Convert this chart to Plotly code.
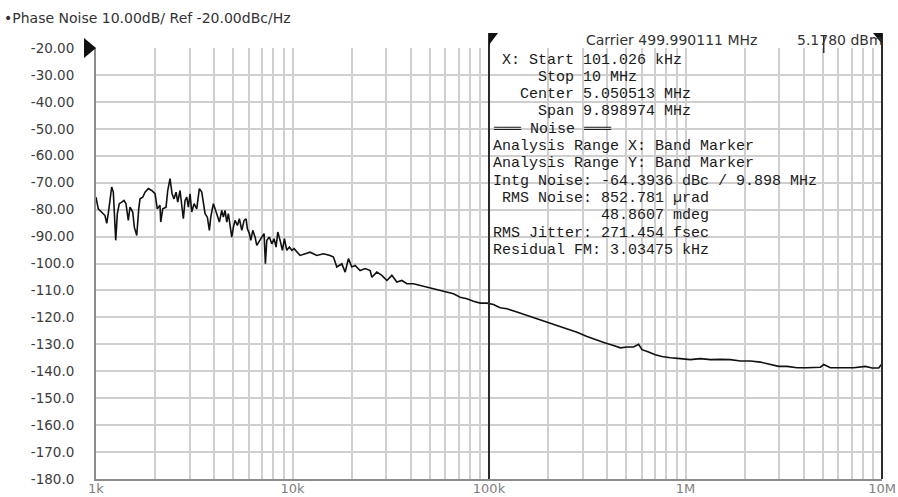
import math
import plotly.graph_objects as go

# Phase noise trace: offset frequency (Hz) and level (dBc/Hz)
freq_hz = [
    1000, 1027, 1111, 1134, 1155, 1178, 1202, 1225, 1260, 1284,
    1314, 1352, 1389, 1421, 1460, 1490, 1538, 1567, 1612, 1650,
    1675, 1729, 1776, 1846, 1921, 1997, 2051, 2117, 2135, 2186,
    2272, 2318, 2381, 2438, 2495, 2555, 2606, 2677, 2731, 2783,
    2839, 2896, 2951, 3010, 3071, 3155, 3256, 3357, 3453, 3518,
    3589, 3687, 3775, 3837, 3956, 4036, 4146, 4245, 4365, 4448,
    4537, 4629, 4716, 4811, 4908, 5003, 5103, 5242, 5366, 5520,
    5670, 5804, 5894, 6034, 6134, 6279, 6451, 6580, 6784, 6977,
    7167, 7278, 7399, 7627, 7845, 8060, 8251, 8417, 8648, 8884,
    9095, 9355, 9643, 9918, 10190, 10520, 10930, 12290, 13290, 14370,
    15540, 16160, 16810, 17820, 18530, 19260, 20040, 20830, 22090, 23430,
    24840, 25340, 26870, 28490, 30220, 32040, 33970, 36020, 38190, 41270,
    44640, 48290, 52170, 56420, 61030, 65950, 71340, 77170, 83410, 90210,
    97570, 105400, 114000, 123300, 138700, 156000, 175400, 197200, 221700, 249300,
    280300, 315200, 354300, 390600, 430500, 465600, 503600, 544200, 577200, 600700,
    648800, 701700, 759200, 836800, 941000, 1058000, 1190000, 1338000, 1504000, 1691000,
    1901000, 2138000, 2404000, 2703000, 2980000, 3287000, 3696000, 4155000, 4858000, 5050000,
    5462000, 6383000, 7180000, 8233000, 8906000, 9622000, 10000000,
]
noise_dbc = [
    -75.4, -79.7, -82.2, -85.1, -81.4, -76.6, -71.6, -73.5, -91.4, -81.5,
    -77.8, -77.2, -76.6, -77.8, -84.0, -79.1, -80.9, -86.5, -89.6, -79.7,
    -76.0, -75.4, -73.5, -72.2, -72.9, -74.1, -79.7, -78.4, -84.6, -79.7,
    -79.1, -72.9, -68.5, -74.1, -76.0, -73.5, -77.2, -72.9, -79.1, -83.4,
    -76.6, -75.4, -79.1, -74.1, -80.9, -77.8, -79.7, -72.2, -73.5, -77.8,
    -81.5, -82.8, -87.7, -82.8, -77.8, -79.7, -82.8, -84.6, -80.3, -82.8,
    -80.3, -84.6, -81.5, -86.5, -90.2, -86.5, -84.0, -85.9, -83.4, -87.7,
    -84.0, -83.4, -87.1, -88.9, -91.4, -87.7, -90.2, -93.3, -91.4, -90.2,
    -88.9, -100.1, -91.4, -90.2, -92.7, -90.8, -93.9, -88.3, -91.4, -95.1,
    -90.8, -95.1, -93.9, -95.1, -94.5, -95.8, -97.0, -95.8, -97.0, -96.4,
    -97.0, -97.6, -101.3, -100.1, -103.2, -98.2, -101.3, -100.7, -102.6, -101.9,
    -102.6, -105.1, -103.2, -104.4, -106.3, -104.4, -106.9, -106.3, -107.5, -107.5,
    -108.1, -108.8, -109.4, -110.0, -110.6, -111.2, -112.5, -113.1, -114.0, -114.7,
    -114.7, -115.2, -116.4, -116.8, -118.0, -119.3, -120.5, -121.8, -123.0, -124.2,
    -125.5, -127.1, -128.5, -129.5, -130.4, -131.3, -131.0, -131.0, -130.0, -132.0,
    -132.9, -133.9, -134.5, -135.0, -135.3, -135.7, -135.3, -135.7, -135.6, -135.7,
    -136.2, -136.2, -136.6, -137.5, -138.2, -138.2, -138.7, -138.7, -138.5, -137.5,
    -138.7, -138.7, -138.7, -138.2, -138.8, -138.8, -137.2,
]

# Axis ticks
y_ticks = [-20, -30, -40, -50, -60, -70, -80, -90, -100, -110,
           -120, -130, -140, -150, -160, -170, -180]
y_tick_text = ["-20.00", "-30.00", "-40.00", "-50.00", "-60.00", "-70.00",
               "-80.00", "-90.00", "-100.0", "-110.0", "-120.0", "-130.0",
               "-140.0", "-150.0", "-160.0", "-170.0", "-180.0"]
decades = [1e3, 1e4, 1e5, 1e6, 1e7]
decade_labels = ["1k", "10k", "100k", "1M", "10M"]

# Band markers and centre marker
band_start_hz = 1e5
band_stop_hz = 1e7
band_center_hz = 5.050513e6

title_text = "\u2022Phase Noise 10.00dB/ Ref -20.00dBc/Hz"
carrier_text = "Carrier 499.990111 MHz"
carrier_level = "5.1780 dBm"
readout_lines = [
    " X: Start 101.026 kHz",
    "     Stop 10 MHz",
    "   Center 5.050513 MHz",
    "     Span 9.898974 MHz",
    "\u2550\u2550\u2550 Noise \u2550\u2550\u2550",
    "Analysis Range X: Band Marker",
    "Analysis Range Y: Band Marker",
    "Intg Noise: -64.3936 dBc / 9.898 MHz",
    " RMS Noise: 852.781 \u00b5rad",
    "            48.8607 mdeg",
    "RMS Jitter: 271.454 fsec",
    "Residual FM: 3.03475 kHz",
]

# grid at every 1..9 multiple of each decade
x_grid = [d * m for d in decades[:-1] for m in range(1, 10)] + [decades[-1]]
x_grid_text = [decade_labels[decades.index(v)] if v in decades else "" for v in x_grid]

W, H = 898, 497
M_L, M_R, M_T, M_B = 96, 16, 48, 18
PW, PH = W - M_L - M_R, H - M_T - M_B


def px_to_paper_x(px):
    return (px - M_L) / PW


def px_to_paper_y(py):
    return (H - M_B - py) / PH


def freq_to_paper(f):
    return (math.log10(f) - 3) / 4


fig = go.Figure()
fig.add_trace(go.Scatter(
    x=freq_hz, y=noise_dbc, mode="lines",
    line=dict(color="#111111", width=1.6),
    hoverinfo="skip", showlegend=False,
))

grid_col = "#cfcfcf"

fig.update_layout(
    width=W, height=H, autosize=False,
    margin=dict(l=M_L, r=M_R, t=M_T, b=M_B, pad=0),
    paper_bgcolor="white", plot_bgcolor="white",
    showlegend=False,
    xaxis=dict(
        type="log", range=[3, 7], automargin=False,
        tickmode="array", tickvals=x_grid, ticktext=x_grid_text,
        showgrid=True, gridcolor=grid_col, gridwidth=1.5,
        showline=True, linecolor="#8c8c8c", linewidth=2,
        ticks="", zeroline=False, ticklabelstandoff=-4,
        tickfont=dict(family="DejaVu Sans", size=13, color="#808080"),
    ),
    yaxis=dict(
        range=[-180, -20], automargin=False,
        tickmode="array", tickvals=y_ticks, ticktext=y_tick_text,
        showgrid=True, gridcolor=grid_col, gridwidth=1.5,
        showline=True, linecolor="#8c8c8c", linewidth=2,
        ticks="", zeroline=False, ticklabelstandoff=17,
        tickfont=dict(family="DejaVu Sans", size=13.5, color="#3c3c3c"),
    ),
)

shapes = []
# band marker lines with flags
for f, flag in [(band_start_hz, "M0,0 L9,0 L0,-12 Z"), (band_stop_hz, "M0,0 L-9,0 L0,-11 Z")]:
    xp = freq_to_paper(f)
    shapes.append(dict(type="line", xref="paper", yref="paper",
                       x0=xp, x1=xp, y0=0, y1=px_to_paper_y(33),
                       line=dict(color="#2b2b2b", width=2)))
    shapes.append(dict(type="path", xref="paper", yref="paper",
                       xsizemode="pixel", ysizemode="pixel",
                       xanchor=xp, yanchor=px_to_paper_y(33),
                       path=flag, fillcolor="#111111", line=dict(width=0)))
# centre marker tick
xc = freq_to_paper(band_center_hz)
shapes.append(dict(type="line", xref="paper", yref="paper",
                   x0=xc, x1=xc, y0=px_to_paper_y(53), y1=px_to_paper_y(35),
                   line=dict(color="#2b2b2b", width=1.5)))
# reference level triangle
shapes.append(dict(type="path", xref="paper", yref="paper",
                   xsizemode="pixel", ysizemode="pixel",
                   xanchor=0, yanchor=1,
                   path="M0,0 L-12,10 L-12,-10 Z",
                   fillcolor="#111111", line=dict(width=0)))
fig.update_layout(shapes=shapes)

head_font = dict(family="DejaVu Sans", size=14, color="#333333")
annotations = [
    dict(text=title_text, xref="paper", yref="paper",
         x=px_to_paper_x(2), y=px_to_paper_y(18), xanchor="left", yanchor="middle",
         showarrow=False, font=head_font),
    dict(text=carrier_text, xref="paper", yref="paper",
         x=px_to_paper_x(584), y=px_to_paper_y(40), xanchor="left", yanchor="middle",
         showarrow=False, font=head_font),
    dict(text=carrier_level, xref="paper", yref="paper",
         x=px_to_paper_x(795), y=px_to_paper_y(40), xanchor="left", yanchor="middle",
         showarrow=False, font=head_font),
]
for i, line in enumerate(readout_lines):
    annotations.append(dict(
        text=line.replace(" ", "\u00a0"), xref="paper", yref="paper",
        x=px_to_paper_x(491), y=px_to_paper_y(60 + i * 17.3),
        xanchor="left", yanchor="middle", showarrow=False,
        font=dict(family="Liberation Mono", size=15, color="#1a1a1a"),
    ))
fig.update_layout(annotations=annotations)

fig.write_html("out.html")
